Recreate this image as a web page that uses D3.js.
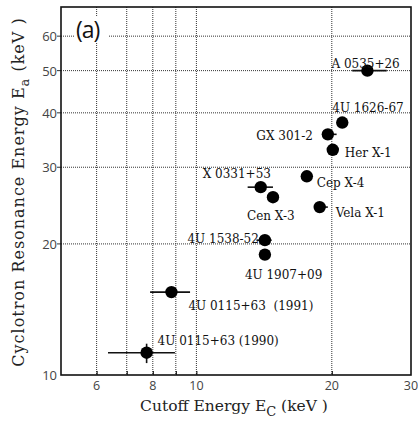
<!DOCTYPE html>
<html>
<head>
<meta charset="utf-8">
<script src="https://cdn.jsdelivr.net/npm/d3@7"></script>
<style>
  body { margin: 0; background: #fff; }
  svg { display: block; }
</style>
</head>
<body>
<div id="chart"></div>
<script>
// sources
const names = ["A 0535+26", "4U 1626-67", "GX 301-2", "Her X-1", "Cep X-4", "X 0331+53",
               "Cen X-3", "Vela X-1", "4U 1538-52", "4U 1907+09", "4U 0115+63  (1991)", "4U 0115+63 (1990)"];
const cutoff = [24.0, 21.1, 19.6, 20.1, 17.6, 13.9, 14.8, 18.8, 14.2, 14.2, 8.8, 7.75];   // E_C keV
const cyclo  = [50.0, 38.0, 35.7, 32.9, 28.6, 27.0, 25.6, 24.3, 20.4, 18.9, 15.5, 11.25]; // E_a keV
const cutoffLo = [22.2, null, 19.1, null, null, 13.0, null, 18.35, 13.6, 13.8, 7.89, 6.36];
const cutoffHi = [26.5, null, 20.5, null, null, 14.8, null, 19.6, 14.7, 14.6, 9.68, 8.96];
const cycloLo  = [null, null, null, null, null, null, null, null, null, null, null, 10.65];
const cycloHi  = [null, null, null, null, null, null, null, null, null, null, null, 11.8];

const xTicks = [6, 8, 10, 20, 30];
const xGrid = [6, 7, 8, 9, 10, 20];
const yTicks = [10, 20, 30, 40, 50, 60];
const yGrid = [20, 30, 40, 50, 60];

// label placement relative to the dot (px), anchor
const labelPos = [
  [-36, -3, "start"], [-10, -11, "start"], [-15, 6, "end"], [12, 7, "start"],
  [10, 11, "start"], [-58, -9, "start"], [-26, 23, "start"], [16, 10, "start"],
  [-6, 3, "end"], [-20, 24, "start"], [17, 18, "start"], [11, -8, "start"]
];

const W = 418, H = 427;
const box = { left: 61, right: 411, top: 7, bottom: 375 };

const svg = d3.select("#chart").append("svg")
  .attr("width", W).attr("height", H);

const x = d3.scaleLog().domain([5, 30]).range([box.left, box.right]);
const y = d3.scaleLog().domain([10, 70]).range([box.bottom, box.top]);

// grid
svg.append("g").selectAll("line").data(xGrid).enter().append("line")
  .attr("x1", d => x(d)).attr("x2", d => x(d))
  .attr("y1", box.top).attr("y2", box.bottom)
  .attr("stroke", "#333").attr("stroke-width", 1).attr("stroke-dasharray", "1,1");

svg.append("g").selectAll("line").data(yGrid).enter().append("line")
  .attr("x1", box.left).attr("x2", box.right)
  .attr("y1", d => y(d)).attr("y2", d => y(d))
  .attr("stroke", "#333").attr("stroke-width", 1).attr("stroke-dasharray", "1,1");

// axes
const xAxis = svg.append("g")
  .attr("transform", `translate(0,${box.bottom})`)
  .call(d3.axisBottom(x).tickValues(xGrid).tickSize(-4).tickFormat(""));
xAxis.select(".domain").remove();
xAxis.selectAll("line").attr("stroke", "#000");

svg.append("g").selectAll("text").data(xTicks).enter().append("text")
  .attr("x", d => x(d)).attr("y", 390)
  .attr("text-anchor", "middle")
  .style("font-family", "'Open Sans', sans-serif").style("font-size", "12.5px").style("fill", "#444")
  .text(d => d);

svg.append("g").selectAll("text").data(yTicks).enter().append("text")
  .attr("x", 57).attr("y", d => y(d) + 5)
  .attr("text-anchor", "end")
  .style("font-family", "'Open Sans', sans-serif").style("font-size", "13px").style("fill", "#444")
  .text(d => d);

svg.append("g").selectAll("line").data(yGrid).enter().append("line")
  .attr("x1", box.left - 4).attr("x2", box.left)
  .attr("y1", d => y(d)).attr("y2", d => y(d))
  .attr("stroke", "#333");

// frame
svg.append("rect")
  .attr("x", box.left).attr("y", box.top)
  .attr("width", box.right - box.left).attr("height", box.bottom - box.top)
  .attr("fill", "none").attr("stroke", "#111").attr("stroke-width", 1.6);

// panel tag
svg.append("rect").attr("x", 74).attr("y", 16).attr("width", 34).attr("height", 27).attr("fill", "#fff");
svg.append("text").attr("x", 76).attr("y", 38)
  .style("font-family", "'Open Sans', sans-serif").style("font-size", "23px").style("fill", "#111")
  .style("letter-spacing", "-1px")
  .text("(a)");

const data = names.map((n, i) => ({
  name: n, xc: cutoff[i], yc: cyclo[i],
  xl: cutoffLo[i], xh: cutoffHi[i], yl: cycloLo[i], yh: cycloHi[i], pos: labelPos[i]
}));

// error bars
svg.append("g").selectAll("line").data(data.filter(d => d.xl != null)).enter().append("line")
  .attr("x1", d => x(d.xl)).attr("x2", d => x(d.xh))
  .attr("y1", d => y(d.yc)).attr("y2", d => y(d.yc))
  .attr("stroke", "#111").attr("stroke-width", 1.6);

svg.append("g").selectAll("line").data(data.filter(d => d.yl != null)).enter().append("line")
  .attr("x1", d => x(d.xc)).attr("x2", d => x(d.xc))
  .attr("y1", d => y(d.yl)).attr("y2", d => y(d.yh))
  .attr("stroke", "#111").attr("stroke-width", 1.6);

// points
svg.append("g").selectAll("circle").data(data).enter().append("circle")
  .attr("cx", d => x(d.xc)).attr("cy", d => y(d.yc))
  .attr("r", 6.2).attr("fill", "#000");

// source labels
svg.append("g").selectAll("text").data(data).enter().append("text")
  .attr("x", d => x(d.xc) + d.pos[0]).attr("y", d => y(d.yc) + d.pos[1])
  .attr("text-anchor", d => d.pos[2])
  .style("font-family", "'DejaVu Serif', serif").style("font-size", "12px").style("fill", "#111")
  .style("white-space", "pre")
  .text(d => d.name);

// axis titles
const yt = svg.append("text")
  .attr("transform", "translate(24,192) rotate(-90)")
  .attr("text-anchor", "middle")
  .style("font-family", "'DejaVu Serif', serif").style("font-size", "16px").style("fill", "#222")
  .style("letter-spacing", "1px");
yt.append("tspan").text("Cyclotron Resonance Energy E");
yt.append("tspan").attr("dy", 5).style("font-size", "13px").text("a");
yt.append("tspan").attr("dy", -5).text(" (keV )");

const xt = svg.append("text")
  .attr("x", 234).attr("y", 411)
  .attr("text-anchor", "middle")
  .style("font-family", "'DejaVu Serif', serif").style("font-size", "15.5px").style("fill", "#222");
xt.append("tspan").text("Cutoff Energy E");
xt.append("tspan").attr("dy", 5).style("font-size", "13px").text("C");
xt.append("tspan").attr("dy", -5).text(" (keV )");
</script>
</body>
</html>
